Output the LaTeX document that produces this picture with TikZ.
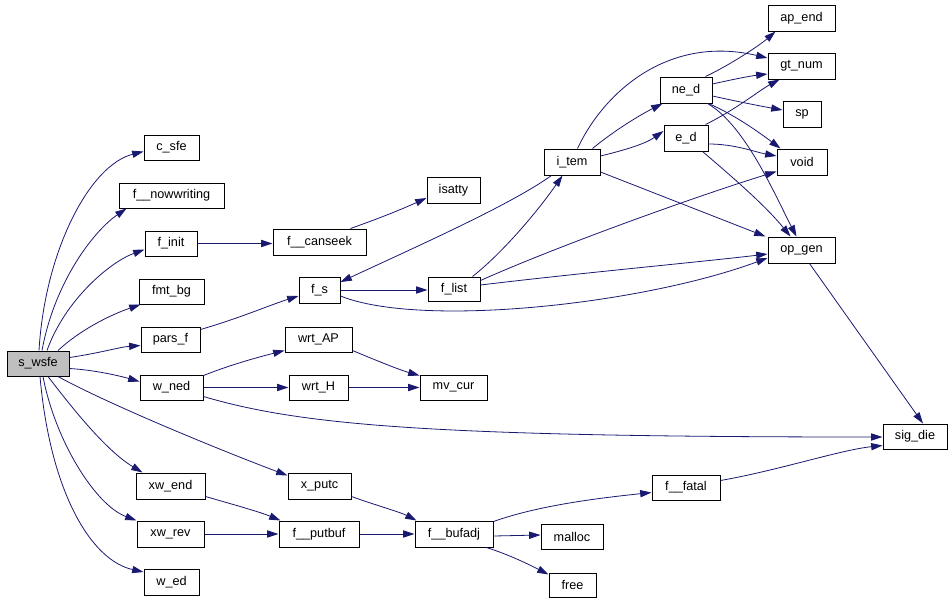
\documentclass[tikz,border=0pt]{standalone}
\usepackage{fontspec}
\setmainfont{Liberation Sans}
\usetikzlibrary{arrows.meta,calc}
\definecolor{navy}{HTML}{191970}
\definecolor{gbox}{HTML}{BFBFBF}
\tikzset{
  fbox/.style={draw=black,line width=0.75pt,fill=white,inner sep=0pt,
    font=\fontsize{9.5}{11}\selectfont,text=black},
  cedge/.style={draw=navy,line width=0.6pt,-{Triangle[length=8.5pt,width=5.4pt]}},
}
\newcommand\mkbox[7][]{\node[fbox,#1,minimum width={(#5-#3)*0.75pt},minimum height={(#6-#4)*0.75pt}] (#2) at ({(#3+#5)/2},{(#4+#6)/2}) {#7};}
\begin{document}
\begin{tikzpicture}[x=0.75pt,y=-0.75pt]
\useasboundingbox (0,0) rectangle (951,601);
\mkbox[fill=gbox]{s_wsfe}{7}{351}{69}{376}{s\_wsfe}
\mkbox{c_sfe}{144}{135}{199}{160}{c\_sfe}
\mkbox{f__nowwriting}{119}{183}{224}{208}{f\_\_nowwriting}
\mkbox{f_init}{145}{231}{197}{256}{f\_init}
\mkbox{f__canseek}{273}{229}{366}{255}{f\_\_canseek}
\mkbox{fmt_bg}{139}{279}{204}{304}{fmt\_bg}
\mkbox{f_s}{299}{277}{340}{303}{f\_s}
\mkbox{pars_f}{141}{327}{200}{352}{pars\_f}
\mkbox{wrt_AP}{285}{327}{352}{352}{wrt\_AP}
\mkbox{w_ned}{140}{375}{203}{400}{w\_ned}
\mkbox{wrt_H}{289}{375}{348}{400}{wrt\_H}
\mkbox{mv_cur}{420}{375}{487}{400}{mv\_cur}
\mkbox{isatty}{427}{177}{480}{203}{isatty}
\mkbox{f_list}{428}{277}{480}{301}{f\_list}
\mkbox{i_tem}{544}{149}{600}{175}{i\_tem}
\mkbox{ne_d}{660}{77}{712}{103}{ne\_d}
\mkbox{e_d}{664}{125}{708}{151}{e\_d}
\mkbox{ap_end}{768}{5}{835}{31}{ap\_end}
\mkbox{gt_num}{768}{53}{835}{79}{gt\_num}
\mkbox{sp}{783}{101}{821}{127}{sp}
\mkbox{void}{777}{149}{827}{175}{void}
\mkbox{op_gen}{768}{237}{835}{263}{op\_gen}
\mkbox{sig_die}{883}{424}{947}{449}{sig\_die}
\mkbox{f__fatal}{652}{475}{720}{500}{f\_\_fatal}
\mkbox{xw_end}{136}{473}{205}{499}{xw\_end}
\mkbox{x_putc}{288}{473}{351}{499}{x\_putc}
\mkbox{xw_rev}{137}{521}{204}{547}{xw\_rev}
\mkbox{f__putbuf}{279}{521}{359}{547}{f\_\_putbuf}
\mkbox{f__bufadj}{415}{521}{493}{547}{f\_\_bufadj}
\mkbox{malloc}{541}{524}{603}{549}{malloc}
\mkbox{free}{549}{573}{596}{597}{free}
\mkbox{w_ed}{144}{569}{199}{595}{w\_ed}

% fan from s_wsfe
\draw[cedge] ($(s_wsfe.north)+(1,0)$) .. controls (45,250) and (90,165) .. ($(c_sfe.west)+(0,4)$);
\draw[cedge] ($(s_wsfe.north)+(4,0)$) .. controls (55,280) and (95,230) .. ($(f__nowwriting.south west)+(8,0)$);
\draw[cedge] ($(s_wsfe.north)+(9,0)$) .. controls (65,300) and (110,262) .. ($(f_init.west)+(0,6)$);
\draw[cedge] ($(s_wsfe.north)+(20,0)$) .. controls (80,330) and (110,315) .. ($(fmt_bg.south west)+(2,0)$);
\draw[cedge] ($(s_wsfe.east)+(0,-6)$) .. controls (100,353) and (120,347) .. ($(pars_f.west)+(0,6)$);
\draw[cedge] ($(s_wsfe.east)+(0,5)$) .. controls (95,370) and (120,376) .. ($(w_ned.west)+(0,-6)$);
\draw[cedge] ($(s_wsfe.south)+(20,0)$) .. controls (110,405) and (220,450) .. ($(x_putc.north west)+(0,3)$);
\draw[cedge] ($(s_wsfe.south)+(10,0)$) .. controls (70,405) and (105,450) .. ($(xw_end.north west)+(7,0)$);
\draw[cedge] ($(s_wsfe.south)+(5,0)$) .. controls (55,440) and (95,505) .. ($(xw_rev.north west)+(0,0)$);
\draw[cedge] ($(s_wsfe.south)+(2,0)$) .. controls (50,490) and (90,560) .. ($(w_ed.west)+(0,-10)$);

% middle
\draw[cedge] (f_init.east) -- (f__canseek.west |- f_init.east);
\draw[cedge] ($(f__canseek.north east)+(-16,0)$) .. controls (380,218) and (400,210) .. ($(isatty.west)+(0,8)$);
\draw[cedge] ($(pars_f.east)+(0,-10)$) .. controls (240,318) and (270,305) .. ($(f_s.west)+(0,6)$);
\draw[cedge] (f_s.east) -- (f_list.west |- f_s.east);
\draw[cedge] ($(i_tem.south west)+(8,0)$) .. controls (510,205) and (420,245) .. ($(f_s.east)+(0,-8)$);
\draw[cedge] ($(f_list.north east)+(-8,0)$) .. controls (500,255) and (535,215) .. ($(i_tem.south west)+(19,0)$);
\draw[cedge] ($(f_s.east)+(0,6)$) .. controls (420,328) and (640,305) .. ($(op_gen.west)+(0,8)$);
\draw[cedge] ($(f_list.east)+(0,-4)$) .. controls (580,273) and (700,262) .. ($(op_gen.west)+(0,4)$);
\draw[cedge] ($(f_list.north east)+(0,4)$) .. controls (560,245) and (700,195) .. ($(void.south west)+(0,-4)$);

% i_tem
\draw[cedge] ($(i_tem.east)+(0,10)$) -- ($(op_gen.north west)+(-2,0)$);
\draw[cedge] ($(i_tem.north east)+(-8,0)$) .. controls (615,130) and (640,115) .. ($(ne_d.south west)+(3,0)$);
\draw[cedge] ($(i_tem.east)+(0,-6)$) .. controls (625,150) and (645,144) .. ($(e_d.west)+(0,-7)$);
\draw[cedge] ($(i_tem.north west)+(34,0)$) .. controls (605,90) and (670,35) .. ($(gt_num.west)+(0,-8)$);

% ne_d, e_d
\draw[cedge] ($(ne_d.north east)+(-7,0)$) .. controls (730,65) and (760,45) .. ($(ap_end.south west)+(8,0)$);
\draw[cedge] ($(ne_d.east)+(0,-6)$) .. controls (730,80) and (750,76) .. ($(gt_num.west)+(0,8)$);
\draw[cedge] ($(ne_d.east)+(0,6)$) .. controls (735,101) and (760,106) .. ($(sp.west)+(0,-4)$);
\draw[cedge] ($(ne_d.south east)+(-4,0)$) .. controls (735,115) and (760,133) .. ($(void.north west)+(4,0)$);
\draw[cedge] ($(ne_d.south east)+(-5,0)$) .. controls (745,125) and (775,195) .. ($(op_gen.north)+(-5,0)$);
\draw[cedge] ($(e_d.north east)+(-3,0)$) .. controls (735,110) and (760,90) .. ($(gt_num.south west)+(12,0)$);
\draw[cedge] ($(e_d.east)+(0,6)$) .. controls (735,144) and (755,152) .. ($(void.west)+(0,-6)$);
\draw[cedge] ($(e_d.south east)+(-6,0)$) .. controls (730,175) and (765,205) .. ($(op_gen.north)+(-11,0)$);
\draw[cedge] ($(op_gen.south)+(8,0)$) -- ($(sig_die.north)+(8,0)$);

% w_ned
\draw[cedge] ($(w_ned.north east)+(0,1)$) .. controls (230,365) and (255,358) .. ($(wrt_AP.south west)+(0,-2)$);
\draw[cedge] (w_ned.east) -- (wrt_H.west |- w_ned.east);
\draw[cedge] ($(w_ned.east)+(0,9)$) .. controls (300,425) and (430,437) .. ($(sig_die.west)+(0,0.5)$);
\draw[cedge] ($(wrt_AP.south east)+(0,-2)$) .. controls (380,362) and (400,370) .. ($(mv_cur.north west)+(0,1)$);
\draw[cedge] (wrt_H.east) -- (mv_cur.west |- wrt_H.east);

% bottom
\draw[cedge] ($(xw_end.south east)+(0,-3)$) .. controls (235,505) and (260,512) .. ($(f__putbuf.north west)+(2,0)$);
\draw[cedge] (xw_rev.east) -- (f__putbuf.west |- xw_rev.east);
\draw[cedge] ($(x_putc.south east)+(0,-3)$) .. controls (375,505) and (400,512) .. ($(f__bufadj.north west)+(2,0)$);
\draw[cedge] (f__putbuf.east) -- (f__bufadj.west |- f__putbuf.east);
\draw[cedge] ($(f__bufadj.east)+(0,2)$) -- ($(malloc.west)+(0,-1.5)$);
\draw[cedge] ($(f__bufadj.south east)+(-7,0)$) .. controls (510,555) and (530,565) .. ($(free.north west)+(0,2)$);
\draw[cedge] ($(f__bufadj.north east)+(0,1)$) .. controls (540,505) and (600,498) .. ($(f__fatal.west)+(0,5)$);
\draw[cedge] ($(f__fatal.east)+(0,-7)$) .. controls (780,470) and (840,450) .. ($(sig_die.west)+(0,9)$);
\end{tikzpicture}
\end{document}
